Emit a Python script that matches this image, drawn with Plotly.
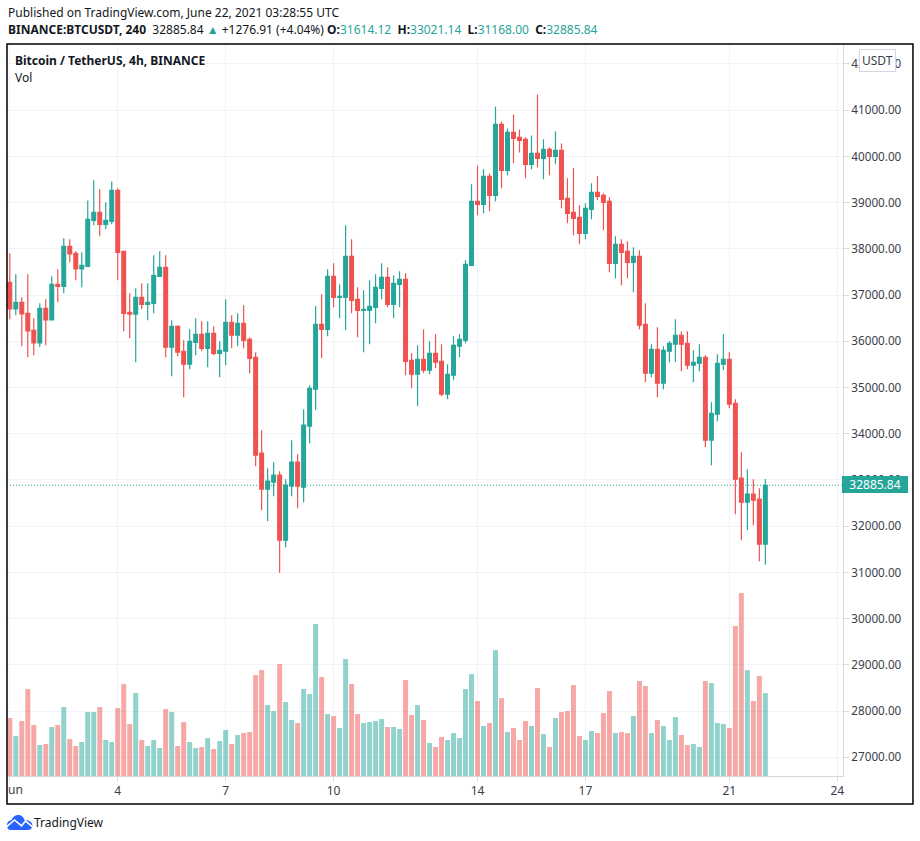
import plotly.graph_objects as go
from plotly.subplots import make_subplots
import pandas as pd


# open, high, low, close, volume
rows = [
    (37276, 37904, 36477, 36700, 11600), (36700, 37449, 36563, 36844, 8000), (36844, 36952, 35893, 36592, 11000),
    (36606, 37449, 35655, 36224, 17400), (36239, 36498, 35698, 35965, 10200), (35965, 36822, 35878, 36714, 6200),
    (36714, 36909, 35914, 36462, 6400), (36462, 37406, 36450, 37233, 9800), (37233, 37558, 36844, 37190, 10200),
    (37190, 38228, 37039, 38055, 13800), (38055, 38206, 37709, 37889, 7400), (37903, 37947, 37320, 37565, 6000),
    (37565, 37925, 37168, 37644, 6800), (37622, 39049, 37601, 38639, 12800), (38617, 39482, 38509, 38790, 12800),
    (38790, 39287, 38271, 38530, 13800), (38530, 39006, 38422, 38617, 7200), (38595, 39460, 38530, 39266, 6800),
    (39266, 39309, 37320, 37925, 13600), (37947, 37947, 36217, 36606, 18400), (36628, 37039, 36066, 36585, 10400),
    (36585, 37147, 35547, 36952, 16600), (36952, 37255, 36693, 36801, 7200), (36801, 37255, 36455, 36844, 6000),
    (36822, 37860, 36606, 37428, 7200), (37406, 37947, 37400, 37601, 5600), (37601, 37860, 35655, 35871, 13400),
    (35871, 36455, 35244, 36325, 12800), (36325, 36347, 35676, 35763, 6000), (35785, 36022, 34790, 35504, 10800),
    (35504, 36260, 35395, 36001, 6800), (35979, 36498, 35698, 36152, 5600), (36152, 36433, 35785, 35849, 5800),
    (35849, 36433, 35439, 36174, 7600), (36174, 36325, 35698, 35741, 5400), (35741, 36001, 35222, 35806, 7000),
    (35785, 36909, 35482, 36412, 9200), (36412, 36563, 35849, 36131, 6400), (36131, 36606, 35893, 36390, 8200),
    (36390, 36779, 35849, 36022, 8600), (36044, 36087, 35309, 35633, 8800), (35655, 35763, 33298, 33536, 20200),
    (33579, 34077, 32347, 32801, 21200), (32801, 33255, 32109, 32974, 14200), (32952, 33385, 32650, 33104, 13000),
    (33104, 33190, 30985, 31698, 22400), (31698, 33017, 31547, 32887, 14800), (32866, 33860, 32650, 33385, 11200),
    (33385, 33558, 32390, 32866, 10600), (32844, 34531, 32520, 34185, 17400), (34163, 35050, 33796, 34985, 16400),
    (34963, 36758, 34509, 36368, 30400), (36368, 37017, 35633, 36260, 19800), (36260, 37558, 36109, 37406, 12400),
    (37406, 37687, 36736, 36952, 12000), (36952, 37233, 36498, 36974, 9600), (36952, 38509, 36239, 37839, 23400),
    (37839, 38206, 36606, 36887, 18400), (36909, 37168, 36087, 36671, 12400), (36671, 37104, 35763, 36693, 10600),
    (36671, 37320, 35936, 36758, 10800), (36736, 37449, 36390, 37168, 11000), (37147, 37687, 36909, 37385, 11400),
    (37385, 37601, 36736, 36801, 9800), (36801, 37428, 36498, 37255, 9800), (37233, 37514, 36736, 37341, 9400),
    (37341, 37471, 35266, 35568, 19200), (35590, 35741, 34985, 35287, 12200), (35287, 35914, 34595, 35612, 14200),
    (35612, 36260, 35309, 35374, 11200), (35374, 36001, 35287, 35741, 6600), (35741, 36152, 35417, 35547, 5800),
    (35568, 35936, 34812, 34855, 7800), (34855, 35504, 34747, 35287, 7200), (35266, 36109, 35158, 35914, 8600),
    (35893, 36152, 35655, 36044, 7600), (36022, 37752, 35958, 37666, 17400), (37644, 39396, 37623, 39028, 20400),
    (39028, 39806, 38725, 38963, 15000), (38963, 39720, 38769, 39569, 10000), (39569, 39633, 38812, 39158, 10600),
    (39158, 41082, 39028, 40693, 25200), (40693, 40758, 39309, 39698, 15600), (39698, 40606, 39590, 40520, 8800),
    (40520, 40909, 39850, 40390, 9600), (40412, 40585, 40087, 40347, 7200), (40369, 40412, 39525, 39828, 11000),
    (39828, 40455, 39720, 40066, 10000), (40066, 41342, 39763, 39958, 17600), (39958, 40369, 39504, 40152, 8400),
    (40152, 40196, 39590, 40001, 5800), (40001, 40542, 39828, 40131, 11600), (40131, 40282, 38877, 39071, 12800),
    (39093, 39525, 38552, 38769, 13000), (38790, 39742, 38293, 38661, 18200), (38682, 38942, 38098, 38336, 8000),
    (38336, 38985, 38206, 38877, 7200), (38855, 39417, 38639, 39223, 9000), (39223, 39569, 39050, 39136, 8600),
    (39158, 39201, 38401, 39006, 12600), (39028, 39115, 37493, 37688, 17000), (37688, 38271, 37363, 38098, 8600),
    (38098, 38206, 37212, 37925, 8800), (37947, 38163, 37363, 37709, 8600), (37709, 38033, 37061, 37839, 12000),
    (37839, 37969, 36260, 36347, 19000), (36368, 36822, 35114, 35309, 18000), (35309, 35936, 35222, 35828, 8600),
    (35828, 36304, 34790, 35093, 11200), (35093, 35893, 34963, 35806, 10000), (35785, 36001, 35547, 35958, 7200),
    (35936, 36477, 35547, 36131, 11800), (36131, 36217, 35352, 35936, 8200), (35958, 36217, 35395, 35482, 6200),
    (35482, 35806, 35114, 35547, 6400), (35525, 35936, 35352, 35655, 5800), (35655, 35698, 33709, 33860, 19000),
    (33860, 34682, 33320, 34444, 18600), (34423, 35720, 34271, 35525, 10600), (35504, 36152, 35374, 35612, 10400),
    (35612, 35763, 34552, 34639, 9600), (34660, 34747, 32260, 33017, 30000), (33039, 33601, 31698, 32520, 36600),
    (32520, 33233, 31914, 32693, 21200), (32693, 33017, 32023, 32563, 15000), (32585, 32823, 31244, 31612, 20000),
    (31614.12, 33021.14, 31168.00, 32885.84, 16600),
]
df = pd.DataFrame(rows, columns=["open", "high", "low", "close", "volume"])
df["time"] = pd.date_range("2021-06-01", periods=len(df), freq="4h")

teal = "#26a69a"
red = "#ef5350"
grid = "#f0f3fa"
ink = "#131722"
font = "Noto Sans"
W = 920
H = 841
L, R, T, B = 6.5, 843, 43.5, 776  # plot box in page pixels

fig = make_subplots(rows=1, cols=1, specs=[[{"secondary_y": True}]])

fig.add_trace(go.Bar(
    x=df["time"],
    y=df["volume"],
    marker_color=[teal if c >= o else red for o, c in zip(df["open"], df["close"])],
    marker_line_width=0,
    opacity=0.5,
    showlegend=False
), secondary_y=False)

fig.add_trace(go.Candlestick(
    x=df["time"],
    open=df["open"],
    high=df["high"],
    low=df["low"],
    close=df["close"],
    increasing=dict(line=dict(color=teal, width=1.2), fillcolor=teal),
    decreasing=dict(line=dict(color=red, width=1.2), fillcolor=red),
    whiskerwidth=0,
    showlegend=False
), secondary_y=True)


def px(x):
    return (x - L) / (R - L)


def py(y):
    return (B - y) / (B - T)


# six candles a day, 36 pixels a day, first candle at page x 9.3
first = pd.Timestamp("2021-06-01")

fig.update_layout(
    width=W,
    height=H,
    margin=dict(l=L, r=W - R, t=T, b=H - B, pad=0),
    paper_bgcolor="white",
    plot_bgcolor="white",
    bargap=0.17,
    boxgap=0.1,
    hovermode=False,
    font=dict(family=font, size=12, color=ink),
    xaxis=dict(
        domain=[0, 1],
        range=[first + pd.Timedelta(days=(L - 9.3) / 36), first + pd.Timedelta(days=(R - 9.3) / 36)],
        rangeslider=dict(visible=False),
        tickvals=["2021-06-04", "2021-06-07", "2021-06-10", "2021-06-14", "2021-06-17", "2021-06-21", "2021-06-24", "2021-06-01"],
        ticktext=["4", "7", "10", "14", "17", "21", "24", ""],
        ticks="outside",
        ticklen=4,
        tickcolor="#d6d8dd",
        showgrid=True,
        gridcolor=grid,
        showline=True,
        linecolor="#d6d8dd",
        tickfont=dict(size=12, color="#3a3e4a"),
        zeroline=False
    ),
    yaxis=dict(range=[0, 146500], visible=False, showgrid=False),
    yaxis2=dict(
        range=[26596, 42432],
        side="right",
        tickvals=list(range(27000, 43000, 1000)),
        tickformat=".2f",
        ticks="outside",
        ticklen=5,
        tickcolor="#d6d8dd",
        showgrid=True,
        gridcolor=grid,
        showline=True,
        linecolor="#d6d8dd",
        tickfont=dict(size=11.7, color="#3a3e4a"),
        zeroline=False
    )
)

# last price line
fig.add_shape(type="line", xref="x domain", yref="y2", x0=0, x1=1, y0=32885.84, y1=32885.84,
              line=dict(color=teal, width=1, dash="1px,2px"), layer="below")
# outer frame
fig.add_shape(type="rect", xref="paper", yref="paper", x0=px(6.5), x1=px(913), y0=py(43.5), y1=py(804),
              line=dict(color="black", width=1.5))
# logo
fig.add_shape(type="path", xref="paper", yref="paper", fillcolor="#2962ff", line=dict(width=0),
              path=f"M {px(6.5)},{py(826)} Q {px(6)},{py(821)} {px(11)},{py(820)} Q {px(13)},{py(815)} {px(18)},{py(815)} "
                   f"Q {px(22)},{py(815)} {px(24)},{py(820)} Q {px(31)},{py(820)} {px(32)},{py(825)} "
                   f"Q {px(32)},{py(830)} {px(27)},{py(830)} L {px(10)},{py(830)} Q {px(7)},{py(830)} {px(6.5)},{py(826)} Z")
fig.add_shape(type="path", xref="paper", yref="paper", line=dict(color="white", width=1.6),
              path=f"M {px(6)},{py(827)} L {px(14)},{py(820)} L {px(21)},{py(826)} L {px(25)},{py(821)} L {px(32)},{py(827)}")


def note(x, y, text, **kw):
    fig.add_annotation(xref="paper", yref="paper", x=px(x), y=py(y), text=text, showarrow=False,
                       xanchor=kw.pop("xanchor", "left"), yanchor="middle", **kw)


note(5, 12, "Published on TradingView.com, June 22, 2021 03:28:55 UTC", font=dict(size=12))
green = f'<span style="color:{teal}">'
gap = "\u00a0\u00a0"
note(5, 29, f'<b>BINANCE:BTCUSDT, 240</b>  32885.84 {green}▲</span> +1276.91 (+4.04%) '
            f'<b>O:</b>{green}31614.12</span>{gap}<b>H:</b>{green}33021.14</span>{gap}'
            f'<b>L:</b>{green}31168.00</span>{gap}<b>C:</b>{green}32885.84</span>', font=dict(size=12))
note(13, 60, "<b>Bitcoin / TetherUS, 4h, BINANCE</b>", font=dict(size=12))
note(13, 77, "Vol", font=dict(size=12))
note(5, 790, "un", font=dict(size=12, color="#3a3e4a"))
note(878, 60, "USDT", xanchor="center", font=dict(size=12, color="#3a3e4a"),
     bgcolor="white", bordercolor="#d4d6e4", borderwidth=1, borderpad=2)
note(875.5, 484.5, "32885.84", xanchor="center", font=dict(size=12, color="white"),
     bgcolor=teal, bordercolor=teal, borderwidth=1, borderpad=1, width=62, height=13)
note(32, 823, "TradingView", font=dict(size=12))

fig.write_html("out.html", config={"displayModeBar": False}, post_script="document.body.style.margin = '0';")
